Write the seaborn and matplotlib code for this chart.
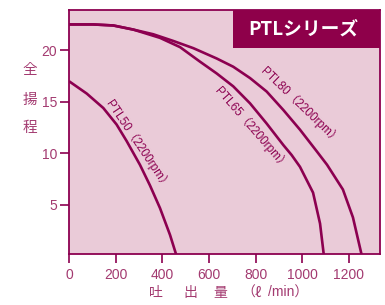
import pandas as pd
import matplotlib
matplotlib.use("Agg")
import matplotlib.pyplot as plt
import seaborn as sns
from matplotlib.patches import Rectangle

# 読み取り値（吐出量 ℓ/min, 全揚程 m）
ptl50_q = [0, 76, 147, 204, 247, 304, 347, 390, 433, 462]
ptl50_h = [17.0, 15.8, 14.4, 12.8, 11.2, 8.9, 6.9, 4.7, 2.1, 0.0]

ptl65_q = [0, 104, 190, 276, 390, 476, 561, 633, 704, 776, 847, 919, 954, 990, 1046, 1076, 1093]
ptl65_h = [22.5, 22.5, 22.4, 22.0, 21.2, 20.3, 18.9, 17.75, 16.5, 14.85, 12.9, 10.8, 9.85, 8.7, 6.2, 3.2, 0.0]

ptl80_q = [0, 104, 190, 276, 361, 447, 533, 633, 704, 776, 847, 919, 990, 1062, 1106, 1174, 1217, 1256]
ptl80_h = [22.5, 22.5, 22.4, 22.0, 21.55, 20.9, 20.2, 19.2, 18.4, 17.3, 16.0, 14.2, 12.3, 10.2, 8.9, 6.5, 3.8, 0.0]

series_names = ["PTL50", "PTL65", "PTL80"]
x_ticks = [0, 200, 400, 600, 800, 1000, 1200]
y_ticks = [5, 10, 15, 20]

line_color = "#8c0050"
text_color = "#a33a70"
bg_color = "#eacbd8"

df = pd.concat([
    pd.DataFrame({"q": ptl50_q, "h": ptl50_h, "model": "PTL50"}),
    pd.DataFrame({"q": ptl65_q, "h": ptl65_h, "model": "PTL65"}),
    pd.DataFrame({"q": ptl80_q, "h": ptl80_h, "model": "PTL80"}),
])

sns.set_style("ticks")
plt.rcParams["font.family"] = ["Liberation Sans", "Noto Sans CJK JP", "DejaVu Sans"]

fig = plt.figure(figsize=(3.85, 3.05), dpi=100)
ax = fig.add_axes([69 / 385, 1 - 254 / 305, 311 / 385, 244 / 305])
ax.set_facecolor(bg_color)

sns.lineplot(data=df, x="q", y="h", hue="model", units="model", estimator=None,
             sort=False, palette={n: line_color for n in series_names},
             linewidth=1.9, legend=False, ax=ax,
             solid_joinstyle="round", solid_capstyle="butt")

ax.set_xlim(0, 1333)
ax.set_ylim(0.25, 23.9)
ax.set_xticks(x_ticks)
ax.set_yticks(y_ticks)
ax.set_xlabel("")
ax.set_ylabel("")
for s in ax.spines.values():
    s.set_color(line_color)
    s.set_linewidth(1.3)
ax.tick_params(colors=line_color, labelcolor=text_color, labelsize=10,
               length=6.5, width=1.2)
ax.tick_params(axis="y", pad=2)

# 曲線ラベル
cjk = ["Liberation Sans", "Noto Sans CJK JP", "DejaVu Sans"]
ax.text(296, 10.8, "PTL50（2200rpm）", rotation=-56, color=line_color,
        fontsize=8.5, ha="center", va="center", family=cjk)
ax.text(780, 12.4, "PTL65（2200rpm）", rotation=-49, color=line_color,
        fontsize=8.5, ha="center", va="center", family=cjk)
ax.text(990, 14.6, "PTL80（2200rpm）", rotation=-44, color=line_color,
        fontsize=8.5, ha="center", va="center", family=cjk)

# タイトルボックス
ax.add_patch(Rectangle((0.527, 0.8455), 0.473, 0.1545, transform=ax.transAxes,
                       facecolor="#8e004a", edgecolor="none", zorder=5))
ax.text(0.7547, 0.921, "PTLシリーズ", transform=ax.transAxes, color="white",
        fontsize=13.5, fontweight="bold", ha="center", va="center", zorder=6,
        family=["Noto Sans CJK JP", "DejaVu Sans"])

# 軸ラベル
jp = ["Noto Sans CJK JP", "DejaVu Sans"]
for ch, yy in zip(["全", "揚", "程"], [70, 100, 128]):
    fig.text(30 / 385, 1 - yy / 305, ch, color=text_color, fontsize=10.5,
             ha="center", va="center", family=jp)
for ch, xx in zip(["吐", "出", "量", "（", "ℓ", "/min）"], [156, 190, 220, 248, 258, 268]):
    fig.text(xx / 385, 1 - 293 / 305, ch, color=text_color, fontsize=10,
             ha="center" if xx < 265 else "left", va="center",
             family=jp if xx < 265 else ["Liberation Sans", "Noto Sans CJK JP"])

fig.savefig("out.png", dpi=100, facecolor="white")
